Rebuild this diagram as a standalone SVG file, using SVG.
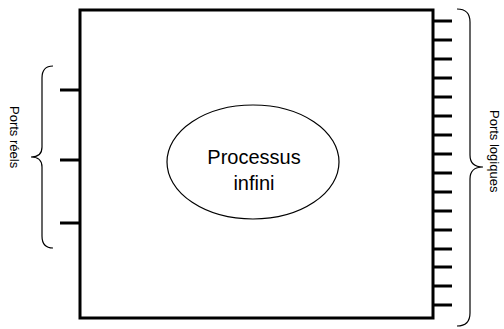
<svg xmlns="http://www.w3.org/2000/svg" width="504" height="329" viewBox="0 0 504 329">
<style>
.box{fill:#fff;stroke:#000;stroke-width:3}
.port{stroke:#000;stroke-width:3}
.brace{fill:none;stroke:#000;stroke-width:1.2}
.lbl{font-family:"Liberation Sans",Arial,sans-serif;fill:#000}
</style>
<rect width="504" height="329" fill="#fff"/>
<g id="process-box">
<rect class="box" x="80" y="10" width="353" height="308"/>
</g>
<g id="process">
<ellipse cx="253" cy="162" rx="86" ry="57" fill="#fff" stroke="#000" stroke-width="1.2"/>
<text class="lbl" x="254" y="164" font-size="20" text-anchor="middle">Processus</text>
<text class="lbl" x="254" y="190" font-size="20" text-anchor="middle">infini</text>
</g>
<g id="connectors">
<line class="port" x1="60" y1="90" x2="80" y2="90"/>
<line class="port" x1="60" y1="160" x2="80" y2="160"/>
<line class="port" x1="60" y1="223" x2="80" y2="223"/>
<line class="port" x1="433" y1="21" x2="452" y2="21"/>
<line class="port" x1="433" y1="40" x2="452" y2="40"/>
<line class="port" x1="433" y1="59" x2="452" y2="59"/>
<line class="port" x1="433" y1="78" x2="452" y2="78"/>
<line class="port" x1="433" y1="97" x2="452" y2="97"/>
<line class="port" x1="433" y1="116" x2="452" y2="116"/>
<line class="port" x1="433" y1="135" x2="452" y2="135"/>
<line class="port" x1="433" y1="154" x2="452" y2="154"/>
<line class="port" x1="433" y1="173" x2="452" y2="173"/>
<line class="port" x1="433" y1="192" x2="452" y2="192"/>
<line class="port" x1="433" y1="211" x2="452" y2="211"/>
<line class="port" x1="433" y1="230" x2="452" y2="230"/>
<line class="port" x1="433" y1="249" x2="452" y2="249"/>
<line class="port" x1="433" y1="267" x2="452" y2="267"/>
<line class="port" x1="433" y1="286" x2="452" y2="286"/>
<line class="port" x1="433" y1="305" x2="452" y2="305"/>
</g>
<g id="ports-reels">
<path class="brace" d="M53,66 Q42,66 42,78 L42,147 Q42,157 31,157 Q42,157 42,167 L42,236 Q42,248 53,248"/>
<text class="lbl" font-size="13" transform="translate(10,106) rotate(90)">Ports réels</text>
</g>
<g id="ports-logiques">
<path class="brace" d="M457,9 Q470,9 470,22 L470,155 Q470,167 483,167 Q470,167 470,179 L470,313 Q470,326 457,326"/>
<text class="lbl" font-size="13" transform="translate(490,110) rotate(90)">Ports logiques</text>
</g>
</svg>
